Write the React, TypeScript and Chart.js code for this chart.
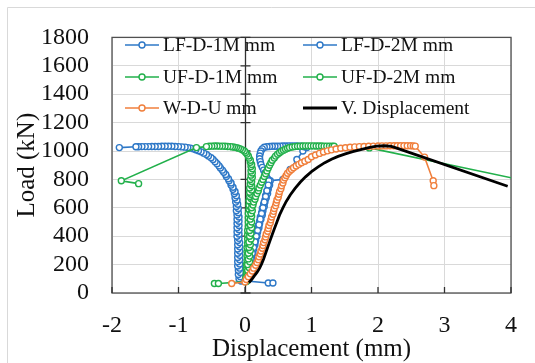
import React, { useEffect, useRef } from 'react';
import { Chart, registerables } from 'chart.js';

Chart.register(...registerables);

const FONT = "'Liberation Serif', 'Times New Roman', serif";

const xTickValues = [-2, -1, 0, 1, 2, 3, 4];
const yTickValues = [0, 200, 400, 600, 800, 1000, 1200, 1400, 1600, 1800];

const seriesNames = ['LF-D-1M mm', 'LF-D-2M mm', 'UF-D-1M mm', 'UF-D-2M mm', 'W-D-U mm', 'V. Displacement'];
const seriesColors = ['#2E78C7', '#2E78C7', '#22B04B', '#22B04B', '#F07F3C', '#000000'];

const lf1X = [-0.06, -0.09, -0.07, -0.10, -0.07, -0.10, -0.08, -0.11, -0.08, -0.11, -0.08, -0.11, -0.08, -0.11, -0.08, -0.11, -0.08, -0.11, -0.08, -0.11, -0.09, -0.12, -0.09, -0.12, -0.09, -0.12, -0.09, -0.12, -0.09, -0.12, -0.09, -0.12, -0.10, -0.13, -0.10, -0.13, -0.11, -0.14, -0.12, -0.15, -0.13, -0.16,
  -0.15, -0.18, -0.18, -0.21, -0.21, -0.24, -0.25, -0.28, -0.29, -0.32, -0.34, -0.37, -0.39, -0.42, -0.45, -0.48, -0.51, -0.55, -0.58, -0.62, -0.66, -0.70, -0.74, -0.78, -0.82, -0.86, -0.90, -0.95, -1.00, -1.05, -1.10, -1.15, -1.20, -1.25, -1.30, -1.35, -1.40, -1.45, -1.50, -1.55, -1.60, -1.64, -1.89];
const lf1Y = [85, 100, 115, 130, 145, 160, 175, 190, 205, 220, 235, 250, 265, 280, 295, 310, 325, 340, 355, 370, 385, 400, 415, 430, 445, 460, 475, 490, 505, 520, 535, 550, 565, 580, 595, 610, 625, 640, 655, 670, 685, 700,
  715, 730, 745, 760, 775, 790, 805, 820, 835, 850, 865, 880, 895, 910, 925, 940, 952, 964, 975, 985, 994, 1002, 1009, 1015, 1020, 1024, 1027, 1029, 1031, 1032, 1033, 1033, 1033, 1033, 1032, 1032, 1032, 1031, 1031, 1031, 1030, 1030, 1024];

const lf2X = [0.01, 0.03, 0.02, 0.04, 0.03, 0.06, 0.05, 0.07, 0.06, 0.09, 0.08, 0.10, 0.09, 0.12, 0.11, 0.13, 0.12, 0.15, 0.14, 0.16, 0.15, 0.18, 0.17, 0.19, 0.18, 0.21, 0.20, 0.22, 0.22, 0.24, 0.23, 0.26, 0.25, 0.27, 0.26, 0.29, 0.28, 0.30, 0.30, 0.32, 0.31, 0.34, 0.33, 0.35, 0.35, 0.37, 0.36, 0.38,
  0.57, 0.68, 0.78, 0.87, 0.93,
  0.89, 0.85, 0.81, 0.77, 0.73, 0.69, 0.65, 0.61, 0.57, 0.53, 0.49, 0.45, 0.41, 0.37, 0.33, 0.29,
  0.26, 0.24, 0.23, 0.22, 0.22, 0.23, 0.24, 0.26, 0.28, 0.30, 0.32, 0.34, 0.36,
  0.35, 0.33, 0.31, 0.29, 0.27, 0.25, 0.23, 0.21, 0.19, 0.17, 0.15, 0.13, 0.11, 0.09, 0.07, 0.05, 0.04, 0.03, 0.35, 0.42];
const lf2Y = [85, 100, 115, 130, 145, 160, 175, 190, 205, 220, 235, 250, 265, 280, 295, 310, 325, 340, 355, 370, 385, 400, 415, 430, 445, 460, 475, 490, 505, 520, 535, 550, 565, 580, 595, 610, 625, 640, 655, 670, 685, 700, 715, 730, 745, 760, 775, 790,
  800, 870, 940, 1000, 1025,
  1030, 1033, 1034, 1035, 1036, 1036, 1036, 1035, 1035, 1034, 1033, 1033, 1033, 1032, 1030, 1026,
  1015, 1000, 985, 965, 945, 925, 905, 885, 865, 845, 825, 805, 790,
  760, 720, 680, 640, 600, 560, 520, 480, 440, 400, 360, 320, 280, 240, 200, 160, 120, 85, 70, 70];

const uf1X = [-0.46, -0.40, 0.01, 0.03, 0.01, 0.04, 0.02, 0.04, 0.02, 0.05, 0.02, 0.05, 0.03, 0.05, 0.03, 0.06, 0.03, 0.06, 0.03, 0.06, 0.04, 0.06, 0.04, 0.07, 0.04, 0.07, 0.04, 0.07, 0.05, 0.07, 0.05, 0.08, 0.05, 0.08, 0.05, 0.08, 0.06, 0.08, 0.06, 0.09, 0.06, 0.09, 0.07, 0.09, 0.07, 0.10, 0.07, 0.10, 0.08, 0.10, 0.08, 0.11, 0.09, 0.11, 0.09, 0.11, 0.09, 0.10,
  0.08, 0.08, 0.06, 0.05, 0.03, 0.01, -0.01, -0.04, -0.07, -0.10, -0.13, -0.16, -0.19, -0.22, -0.26, -0.30, -0.34, -0.38, -0.42, -0.46, -0.50, -0.54, -0.58, -0.73, -1.86, -1.60];
const uf1Y = [67, 67, 80, 95, 110, 125, 140, 155, 170, 185, 200, 215, 230, 245, 260, 275, 290, 305, 320, 335, 350, 365, 380, 395, 410, 425, 440, 455, 470, 485, 500, 515, 530, 545, 560, 575, 590, 605, 620, 635, 650, 665, 680, 695, 710, 725, 740, 755, 770, 785, 800, 815, 830, 845, 860, 875, 890, 905,
  920, 935, 950, 965, 978, 990, 1000, 1008, 1015, 1020, 1024, 1027, 1029, 1031, 1032, 1033, 1034, 1034, 1035, 1035, 1034, 1033, 1031, 1024, 790, 770];

const uf2X = [0.03, 0.05, 0.03, 0.06, 0.04, 0.06, 0.04, 0.07, 0.05, 0.07, 0.05, 0.08, 0.06, 0.08, 0.06, 0.09, 0.07, 0.09, 0.07, 0.10, 0.08, 0.10, 0.08, 0.10, 0.09, 0.11, 0.10,
  0.12, 0.13, 0.15, 0.16, 0.18, 0.20, 0.21, 0.23, 0.25, 0.27, 0.29, 0.31, 0.33, 0.35, 0.37, 0.39, 0.41, 0.44, 0.46, 0.49, 0.52, 0.55, 0.58, 0.61, 0.64, 0.67, 0.71, 0.75, 0.79, 0.83, 0.87, 0.91, 0.95, 0.99, 1.03, 1.07, 1.11, 1.15, 1.19, 1.23, 1.27, 1.31, 1.34, 1.87, 4.10];
const uf2Y = [85, 100, 120, 140, 160, 180, 200, 220, 240, 260, 280, 300, 320, 340, 360, 380, 400, 420, 440, 460, 480, 500, 520, 540, 560, 580, 600,
  620, 640, 660, 680, 700, 720, 740, 760, 780, 800, 820, 840, 860, 880, 900, 918, 935, 950, 964, 977, 988, 998, 1006, 1013, 1019, 1024, 1028, 1031, 1033, 1034, 1035, 1036, 1036, 1036, 1036, 1035, 1035, 1035, 1034, 1034, 1034, 1033, 1033, 1022, 802];

const wduX = [-0.20, 0.00, 0.02, 0.05, 0.08, 0.11, 0.13, 0.16, 0.18, 0.20, 0.21, 0.23, 0.24, 0.26, 0.27, 0.28, 0.30, 0.31, 0.32, 0.34, 0.35, 0.36, 0.38, 0.39, 0.40, 0.42, 0.43, 0.44, 0.46, 0.47, 0.48, 0.50, 0.51, 0.52, 0.54, 0.55, 0.57, 0.58,
  0.60, 0.62, 0.64, 0.67, 0.70, 0.73, 0.77, 0.81, 0.85, 0.90, 0.95, 1.00, 1.06, 1.12, 1.18, 1.24, 1.30, 1.37, 1.44, 1.51, 1.58, 1.65, 1.72, 1.79, 1.86, 1.93, 2.00, 2.06, 2.12, 2.18, 2.24, 2.29, 2.34, 2.39, 2.44, 2.49, 2.53, 2.56, 2.70, 2.83, 2.84];
const wduY = [67, 78, 95, 115, 135, 155, 175, 195, 215, 235, 255, 275, 295, 315, 335, 355, 375, 395, 415, 435, 455, 475, 495, 515, 535, 555, 575, 595, 615, 635, 655, 675, 695, 715, 735, 755, 775, 795,
  812, 828, 843, 857, 870, 882, 894, 906, 917, 928, 940, 960, 972, 983, 993, 1001, 1008, 1014, 1019, 1023, 1026, 1029, 1031, 1032, 1033, 1034, 1035, 1036, 1036, 1037, 1037, 1037, 1037, 1037, 1037, 1037, 1036, 1034, 957, 790, 756];

const vdX = [0.06, 0.10, 0.14, 0.18, 0.22, 0.25, 0.28, 0.31, 0.34, 0.37, 0.40, 0.44, 0.48, 0.52, 0.57, 0.62, 0.68, 0.75, 0.83, 0.91, 1.00, 1.10, 1.20, 1.30, 1.40, 1.51, 1.62, 1.74, 1.86, 1.98, 2.10, 2.20, 2.26, 3.95];
const vdY = [73, 95, 120, 145, 175, 205, 240, 280, 320, 360, 400, 450, 500, 550, 600, 645, 690, 735, 780, 818, 855, 888, 918, 942, 962, 980, 995, 1010, 1024, 1034, 1037, 1032, 1024, 752];

const seriesX = [lf1X, lf2X, uf1X, uf2X, wduX, vdX];
const seriesY = [lf1Y, lf2Y, uf1Y, uf2Y, wduY, vdY];

const frame = {
  id: 'frame',
  beforeDraw(chart: any) {
    const c = chart.ctx;
    c.save();
    c.fillStyle = '#ffffff';
    c.fillRect(0, 0, chart.width, chart.height);
    c.strokeStyle = '#d9d9d9';
    c.lineWidth = 1;
    c.beginPath();
    c.moveTo(7.5, chart.height);
    c.lineTo(7.5, 7.5);
    c.lineTo(chart.width, 7.5);
    c.stroke();
    c.restore();
  },
  beforeDatasetsDraw(chart: any) {
    const c = chart.ctx;
    const a = chart.chartArea;
    const xs = chart.scales.x;
    const ys = chart.scales.y;
    c.save();
    c.strokeStyle = '#505050';
    c.lineWidth = 1.3;
    c.strokeRect(a.left, a.top, a.right - a.left, a.bottom - a.top);
    const x0 = Math.round(xs.getPixelForValue(0)) + 0.5;
    c.strokeStyle = '#303030';
    c.beginPath();
    c.moveTo(x0, a.top);
    c.lineTo(x0, a.bottom);
    yTickValues.forEach((v) => {
      const py = ys.getPixelForValue(v);
      c.moveTo(x0 - 5, py);
      c.lineTo(x0 + 5, py);
    });
    xTickValues.forEach((v) => {
      const px = xs.getPixelForValue(v);
      c.moveTo(px, a.bottom);
      c.lineTo(px, a.bottom - 6);
    });
    c.stroke();
    c.restore();
  },
  afterDraw(chart: any) {
    const c = chart.ctx;
    const cols = [125, 303];
    const rows = [45, 77, 108];
    c.save();
    c.font = `19.5px ${FONT}`;
    c.textBaseline = 'middle';
    c.textAlign = 'left';
    seriesNames.forEach((name, i) => {
      const x = cols[i % 2];
      const y = rows[Math.floor(i / 2)];
      const col = seriesColors[i];
      c.strokeStyle = col;
      c.lineWidth = i === 5 ? 2.8 : 1.6;
      c.beginPath();
      c.moveTo(x, y);
      c.lineTo(x + 34, y);
      c.stroke();
      if (i !== 5) {
        c.beginPath();
        c.arc(x + 17, y, 3, 0, Math.PI * 2);
        c.fillStyle = '#ffffff';
        c.fill();
        c.lineWidth = 1.4;
        c.stroke();
      }
      c.fillStyle = '#111111';
      c.fillText(name, x + 38, y + 1);
    });
    c.restore();
  },
};

export default function App() {
  const ref = useRef<HTMLCanvasElement | null>(null);
  useEffect(() => {
    if (!ref.current) return;
    const datasets = seriesNames.map((name, i) => ({
      label: name,
      data: seriesX[i].map((x, j) => ({ x, y: seriesY[i][j] })),
      showLine: true,
      borderColor: seriesColors[i],
      backgroundColor: seriesColors[i],
      borderWidth: i === 5 ? 2.8 : 1.6,
      pointRadius: i === 5 ? 0 : 3,
      pointBorderWidth: 1.4,
      pointBackgroundColor: '#ffffff',
      pointBorderColor: seriesColors[i],
      tension: 0,
      order: 10 - i,
    }));
    const chart = new Chart(ref.current, {
      type: 'scatter',
      data: { datasets },
      options: {
        animation: false,
        responsive: false,
        maintainAspectRatio: false,
        devicePixelRatio: 1,
        layout: { padding: { top: 24, right: 7, left: 0, bottom: 0 } },
        plugins: { legend: { display: false }, tooltip: { enabled: false } },
        scales: {
          x: {
            type: 'linear',
            min: -2,
            max: 4,
            afterBuildTicks: (s: any) => { s.ticks = xTickValues.map((v) => ({ value: v })); },
            afterFit: (s: any) => { s.height = 70; },
            ticks: { autoSkip: false, font: { family: FONT, size: 24 }, color: '#111111', padding: 18, maxRotation: 0, callback: (v: any) => String(v) },
            grid: { color: '#d9d9d9', lineWidth: 1, drawTicks: false },
            border: { display: false },
            title: { display: true, text: 'Displacement (mm)', font: { family: FONT, size: 25, lineHeight: 1 }, color: '#111111', padding: { top: 0, bottom: 1 } },
          },
          y: {
            type: 'linear',
            min: 0,
            max: 1800,
            afterBuildTicks: (s: any) => { s.ticks = yTickValues.map((v) => ({ value: v })); },
            afterFit: (s: any) => { s.width = 112; },
            ticks: { autoSkip: false, font: { family: FONT, size: 24 }, color: '#111111', padding: 23, callback: (v: any) => String(v) },
            grid: { color: '#d9d9d9', lineWidth: 1, drawTicks: false },
            border: { display: false },
            title: { display: true, text: 'Load (kN)', font: { family: FONT, size: 25, lineHeight: 1 }, color: '#111111', padding: { top: 14.5, bottom: 0 } },
          },
        },
      },
      plugins: [frame],
    });
    return () => chart.destroy();
  }, []);
  return (
    <div style={{ position: 'fixed', left: 0, top: 0, width: 535, height: 363 }}>
      <canvas ref={ref} width={535} height={363} style={{ width: 535, height: 363, display: 'block' }} />
    </div>
  );
}
